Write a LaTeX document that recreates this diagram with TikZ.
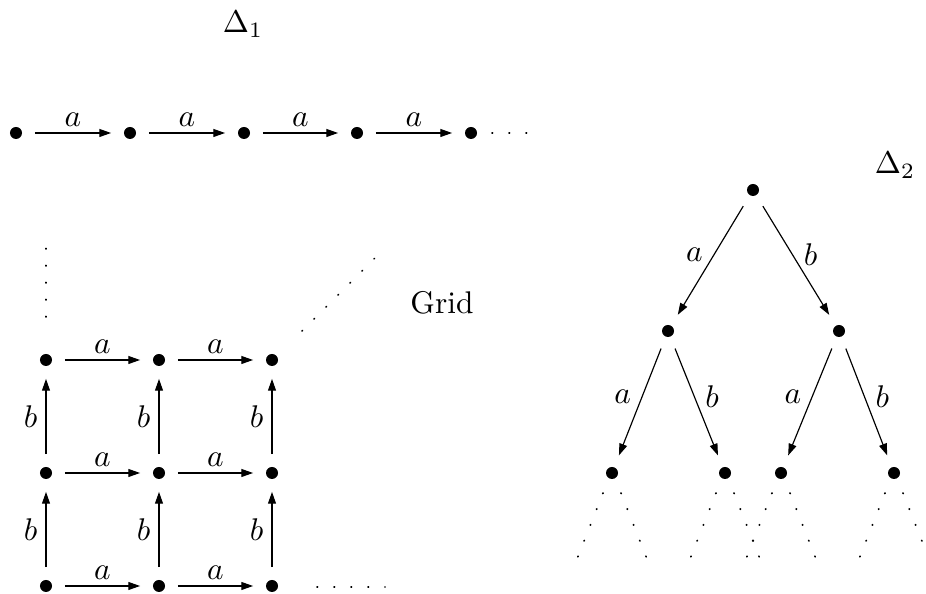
\documentclass[tikz,border=0pt]{standalone}
\usetikzlibrary{arrows.meta}

\tikzset{
  pt/.style={circle, fill=black, inner sep=0pt, minimum size=0.144cm, outer sep=4.4pt},
  lab/.style={scale=1.07},
  fl/.style={-{Triangle[length=4pt,width=2.7pt]}, line width=0.4pt},
  pointille/.style={line width=0.6pt, line cap=round, dash pattern=on 0.2pt off 5.6pt}
}

\begin{document}
\begin{tikzpicture}[x=0.012cm, y=-0.012cm]
\useasboundingbox (0,0) rectangle (926,594);

% Chaîne Delta_1
\node[lab] (t1) at (243,24) {$\Delta_1$};
\foreach \i/\x in {1/16,2/130,3/244,4/357,5/471}
  \node[pt] (d\i) at (\x,133) {};
\foreach \i/\j in {1/2,2/3,3/4,4/5}
  \draw[fl] (d\i) -- node[lab, above=-1.4pt] {$a$} (d\j);
\draw[pointille] (492,133) -- (528,133);

% Grille
\foreach \c/\x in {1/46,2/159,3/272}
  \foreach \r/\y in {1/360,2/473,3/586}
    \node[pt] (g\c\r) at (\x,\y) {};
\foreach \r in {1,2,3}{
  \draw[fl] (g1\r) -- node[lab, above=-1.4pt] {$a$} (g2\r);
  \draw[fl] (g2\r) -- node[lab, above=-1.4pt] {$a$} (g3\r);
}
\foreach \c in {1,2,3}{
  \draw[fl] (g\c3) -- node[lab, left=-0.8pt] {$b$} (g\c2);
  \draw[fl] (g\c2) -- node[lab, left=-0.8pt] {$b$} (g\c1);
}
\draw[pointille] (46,317) -- (46,246);
\draw[pointille] (302,331) -- (386,247);
\draw[pointille] (317,587) -- (385,587);
\node[lab] (grid) at (442,303) {Grid};

% Arbre Delta_2
\node[lab] (t2) at (895,165) {$\Delta_2$};
\node[pt] (r) at (753,190) {};
\node[pt] (n1) at (668,331) {};
\node[pt] (n2) at (839,331) {};
\node[pt] (f1) at (612,473) {};
\node[pt] (f2) at (725,473) {};
\node[pt] (f3) at (781,473) {};
\node[pt] (f4) at (894,473) {};
\draw[fl] (r) -- node[lab, pos=0.45, left] {$a$} (n1);
\draw[fl] (r) -- node[lab, pos=0.45, right] {$b$} (n2);
\draw[fl] (n1) -- node[lab, pos=0.45, left] {$a$} (f1);
\draw[fl] (n1) -- node[lab, pos=0.45, right] {$b$} (f2);
\draw[fl] (n2) -- node[lab, pos=0.45, left] {$a$} (f3);
\draw[fl] (n2) -- node[lab, pos=0.45, right] {$b$} (f4);
\foreach \f in {f1,f2,f3,f4}{
  \draw[pointille] ([shift={(-9,20)}]\f.center) -- ++(-26,66);
  \draw[pointille] ([shift={(9,20)}]\f.center) -- ++(26,66);
}

\end{tikzpicture}
\end{document}
